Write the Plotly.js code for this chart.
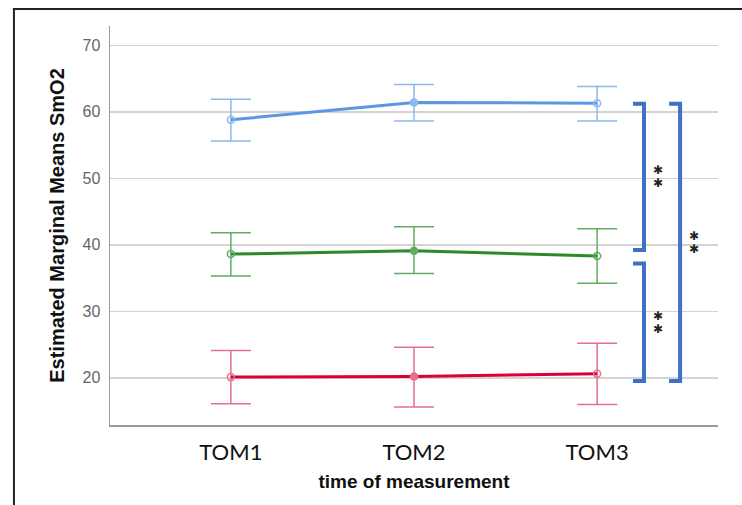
<!DOCTYPE html>
<html>
<head>
<meta charset="utf-8">
<script src="https://cdn.plot.ly/plotly-3.0.1.min.js"></script>
<style>html,body{margin:0;padding:0;background:#fff;}#chart{width:742px;height:505px;}</style>
</head>
<body>
<div id="chart"></div>
<script>
// ---- data ----
var categories = ["TOM1", "TOM2", "TOM3"];
var blueMean  = [58.8, 61.4, 61.3];
var blueUpper = [61.9, 64.1, 63.8];
var blueLower = [55.6, 58.6, 58.6];
var greenMean  = [38.6, 39.1, 38.3];
var greenUpper = [41.8, 42.7, 42.4];
var greenLower = [35.3, 35.7, 34.2];
var redMean  = [20.1, 20.2, 20.6];
var redUpper = [24.1, 24.6, 25.2];
var redLower = [16.1, 15.6, 16.0];
var yTicks = [20, 30, 40, 50, 60, 70];
// significance brackets: [top value, bottom value]
var bracketInnerUpper = [61.2, 39.2];
var bracketInnerLower = [37.2, 19.5];
var bracketOuter = [61.2, 19.5];
var sigGlyph = "\u2731";

// ---- build ----
var xIdx = categories.map(function (c, i) { return i; });
function diff(a, b) { return a.map(function (v, i) { return Math.abs(v - b[i]); }); }

function makeTrace(mean, up, lo, lineColor, barColor) {
  return {
    x: xIdx, y: mean, type: "scatter", mode: "lines+markers",
    line: { color: lineColor, width: 3 },
    marker: { symbol: ["circle-open", "circle", "circle-open"], size: 7, color: barColor, line: { color: barColor, width: 1.5 } },
    error_y: { type: "data", symmetric: false, array: diff(up, mean), arrayminus: diff(mean, lo), color: barColor, thickness: 1.5, width: 20 },
    hoverinfo: "none", showlegend: false
  };
}

var traces = [
  makeTrace(blueMean, blueUpper, blueLower, "#5b97e3", "#8bb8ee"),
  makeTrace(greenMean, greenUpper, greenLower, "#2b8a2b", "#62ad62"),
  makeTrace(redMean, redUpper, redLower, "#d9003b", "#e5708c")
];

var bColor = "#3f6fc6";
function bracket(x0, x1, r) {
  return {
    type: "path", xref: "x", yref: "y",
    path: "M" + x0 + "," + r[0] + " L" + x1 + "," + r[0] + " L" + x1 + "," + r[1] + " L" + x0 + "," + r[1],
    line: { color: bColor, width: 4 }
  };
}

var shapes = [
  bracket(2.196, 2.256, bracketInnerUpper),
  bracket(2.196, 2.256, bracketInnerLower),
  bracket(2.393, 2.453, bracketOuter),
  { type: "rect", xref: "paper", yref: "paper", x0: -0.158, x1: 1.2, y0: -0.4, y1: 1.0426,
    line: { color: "#222", width: 2 }, fillcolor: "rgba(0,0,0,0)" }
];

function sig(x, y) {
  return [6.5, -6.5].map(function (s) {
    return { x: x, y: y, xref: "x", yref: "y", yshift: s, text: sigGlyph, showarrow: false,
      font: { family: "DejaVu Sans", size: 12, color: "#222" } };
  });
}

var annotations = [].concat(
  sig(2.33, (bracketInnerUpper[0] + bracketInnerUpper[1]) / 2),
  sig(2.33, (bracketInnerLower[0] + bracketInnerLower[1]) / 2),
  sig(2.53, (bracketOuter[0] + bracketOuter[1]) / 2)
);

var layout = {
  width: 742, height: 505,
  margin: { l: 110, r: 24, t: 26, b: 80 },
  paper_bgcolor: "#fff", plot_bgcolor: "#fff",
  font: { family: "Liberation Sans, Arial", color: "#000" },
  xaxis: {
    range: [-0.66, 2.66], tickvals: xIdx, ticktext: categories,
    showgrid: false, zeroline: false, showline: true, linecolor: "#999", linewidth: 2,
    ticks: "", ticklabelstandoff: 7,
    tickfont: { family: "Lato, Liberation Sans", size: 22, color: "#111" },
    title: { text: "time of measurement", font: { family: "Liberation Sans, Arial", size: 19, color: "#111", weight: "bold" }, standoff: 10 }
  },
  yaxis: {
    range: [12.9, 72.9], tickvals: yTicks, ticktext: yTicks.map(String),
    showgrid: true, gridcolor: "#d4d4d4", gridwidth: 1.5, zeroline: false,
    showline: true, linecolor: "#999", linewidth: 1.5, ticks: "", ticklabelstandoff: 5,
    tickfont: { family: "Liberation Sans, Arial", size: 16, color: "#666" },
    title: { text: "Estimated Marginal Means SmO2", font: { family: "Liberation Sans, Arial", size: 20, color: "#111", weight: "bold" }, standoff: 12 }
  },
  shapes: shapes,
  annotations: annotations
};

Plotly.newPlot("chart", traces, layout, { staticPlot: true, displayModeBar: false });
</script>
</body>
</html>
